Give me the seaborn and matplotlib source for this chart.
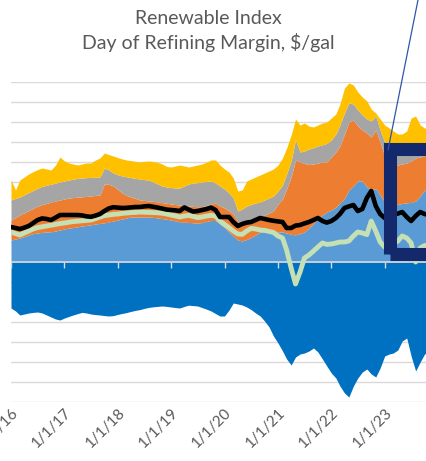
import numpy as np
import pandas as pd
import matplotlib
matplotlib.use("Agg")
import matplotlib.pyplot as plt
from matplotlib.patches import Rectangle
from matplotlib.lines import Line2D
import seaborn as sns

# monthly readings, Jan 2016 .. Nov 2023 ($/gal)
dates = pd.date_range("2016-01-01", periods=95, freq="MS")

# top of each stacked layer
light_blue_top = [1.10, 1.15, 1.20, 1.27, 1.35, 1.42, 1.45, 1.48, 1.50, 1.51,
                  1.55, 1.60, 1.65, 1.70, 1.72, 1.76, 1.80, 1.83, 1.86, 1.90,
                  1.93, 1.96, 2.00, 2.05, 2.10, 2.15, 2.20, 2.25, 2.25, 2.25,
                  2.25, 2.25, 2.23, 2.20, 2.17, 2.14, 2.10, 2.05, 2.00, 1.99,
                  1.98, 1.96, 1.95, 1.97, 2.03, 2.08, 2.07, 1.90, 1.72, 1.50,
                  1.30, 1.10, 1.05, 1.13, 1.23, 1.35, 1.50, 1.50, 1.50, 1.50,
                  1.50, 1.50, 1.45, 1.38, 1.36, 1.42, 1.50, 1.70, 1.93, 2.15,
                  2.35, 2.50, 2.60, 2.73, 2.95, 3.18, 3.60, 3.80, 4.05, 4.05,
                  3.75, 3.62, 3.67, 3.35, 3.02, 2.95, 2.87, 2.88, 2.93, 2.96,
                  2.98, 3.05, 3.30, 3.60, 3.70]
orange_top = [2.10, 2.22, 2.35, 2.46, 2.57, 2.68, 2.79, 2.87, 2.93, 2.99,
              3.05, 3.10, 3.15, 3.20, 3.22, 3.24, 3.26, 3.28, 3.30, 3.33,
              3.35, 3.90, 3.88, 3.80, 3.62, 3.45, 3.33, 3.25, 3.18, 3.10,
              3.08, 3.05, 3.03, 3.00, 2.97, 2.94, 2.90, 2.87, 2.85, 2.83,
              2.80, 2.78, 2.76, 2.77, 2.83, 2.90, 2.95, 2.80, 2.70, 2.55,
              2.40, 2.00, 1.97, 2.00, 2.05, 2.15, 2.25, 2.35, 2.45, 2.55,
              2.90, 3.15, 3.65, 4.25, 5.10, 5.00, 4.93, 4.87, 4.90, 4.95,
              5.00, 5.00, 5.25, 5.50, 5.80, 6.40, 7.00, 7.10, 6.80, 6.60,
              6.45, 6.25, 6.60, 6.00, 5.30, 5.10, 4.90, 4.85, 4.90, 4.95,
              5.05, 5.20, 5.25, 5.32, 5.35]
gray_top = [3.10, 3.18, 3.25, 3.36, 3.47, 3.58, 3.69, 3.78, 3.84, 3.89,
            3.95, 4.00, 4.05, 4.10, 4.14, 4.18, 4.20, 4.22, 4.23, 4.24,
            4.25, 4.70, 4.60, 4.45, 4.36, 4.30, 4.26, 4.22, 4.18, 4.15,
            4.12, 4.10, 4.00, 3.90, 3.80, 3.75, 3.72, 3.70, 3.70, 3.80,
            3.90, 3.95, 3.97, 4.00, 4.03, 4.05, 3.95, 3.80, 3.65, 3.45,
            3.20, 2.55, 2.65, 2.80, 2.88, 2.95, 3.00, 3.10, 3.20, 3.30,
            3.55, 3.85, 4.40, 5.05, 6.10, 5.50, 5.55, 5.65, 5.72, 5.80,
            5.86, 5.93, 6.10, 6.40, 6.85, 7.45, 7.95, 7.90, 7.60, 7.35,
            7.15, 7.05, 7.30, 6.60, 6.00, 5.80, 5.55, 5.50, 5.40, 5.37,
            5.40, 5.50, 5.55, 5.65, 5.70]
yellow_top = [4.10, 3.60, 4.10, 4.25, 4.40, 4.52, 4.62, 4.70, 4.65, 4.60,
              4.85, 5.25, 5.05, 4.95, 4.90, 4.85, 4.90, 4.95, 4.95, 5.10,
              5.20, 5.45, 5.37, 5.30, 5.22, 5.15, 5.10, 5.07, 5.03, 5.00,
              5.03, 5.05, 5.02, 4.98, 4.90, 4.78, 4.75, 4.80, 4.85, 4.80,
              4.75, 4.80, 4.85, 4.90, 5.00, 5.10, 5.10, 4.85, 4.65, 4.50,
              4.20, 3.55, 3.60, 4.05, 4.15, 4.25, 4.35, 4.45, 4.55, 4.65,
              4.85, 5.20, 5.70, 6.35, 7.15, 6.85, 6.95, 6.80, 6.75, 6.85,
              6.95, 7.00, 7.20, 7.40, 7.90, 8.70, 8.95, 8.85, 8.50, 8.25,
              8.05, 7.65, 7.45, 7.15, 6.85, 6.70, 6.55, 6.40, 6.40, 6.55,
              7.20, 7.30, 6.85, 6.70, 6.65]
# negative layer
dark_blue = [-2.30, -2.45, -2.65, -2.60, -2.55, -2.52, -2.50, -2.55, -2.65, -2.75,
             -2.85, -2.90, -2.80, -2.72, -2.65, -2.58, -2.52, -2.55, -2.60, -2.63,
             -2.65, -2.68, -2.70, -2.68, -2.62, -2.57, -2.53, -2.47, -2.42, -2.38,
             -2.32, -2.27, -2.24, -2.22, -2.20, -2.22, -2.25, -2.28, -2.30, -2.22,
             -2.16, -2.18, -2.20, -2.28, -2.36, -2.45, -2.58, -2.70, -2.70, -2.40,
             -2.05, -2.10, -2.15, -2.25, -2.38, -2.55, -2.70, -2.95, -3.25, -3.70,
             -4.05, -4.45, -4.85, -5.15, -4.75, -4.60, -4.55, -4.45, -4.30, -4.50,
             -4.85, -5.20, -5.55, -5.80, -6.20, -6.55, -6.75, -6.20, -5.80, -5.50,
             -5.35, -5.60, -5.75, -5.30, -4.70, -4.60, -4.55, -4.40, -3.95, -3.80,
             -4.70, -5.45, -5.00, -4.60, -4.50]
# lines
green_line = [1.50, 1.42, 1.35, 1.45, 1.55, 1.65, 1.72, 1.76, 1.80, 1.84,
              1.88, 1.92, 1.95, 1.99, 2.02, 2.04, 2.06, 2.08, 2.10, 2.17,
              2.25, 2.32, 2.35, 2.38, 2.40, 2.43, 2.45, 2.47, 2.48, 2.50,
              2.49, 2.48, 2.47, 2.46, 2.44, 2.40, 2.35, 2.30, 2.25, 2.30,
              2.33, 2.28, 2.22, 2.25, 2.30, 2.33, 2.30, 2.05, 1.88, 1.72,
              1.55, 1.40, 1.38, 1.55, 1.68, 1.65, 1.60, 1.58, 1.53, 1.48,
              1.30, 1.20, 0.60, -0.30, -1.10, -0.50, 0.20, 0.35, 0.55, 0.75,
              0.95, 0.88, 0.90, 0.95, 1.00, 1.00, 1.05, 1.30, 1.50, 1.45,
              1.37, 2.05, 1.55, 1.00, 0.75, 1.00, 0.90, 1.05, 1.30, 1.20,
              0.95, 0.00, 0.70, 0.82, 0.85]
black_line = [1.75, 1.70, 1.65, 1.72, 1.80, 1.95, 2.10, 2.18, 2.15, 2.10,
              2.22, 2.35, 2.35, 2.35, 2.35, 2.35, 2.33, 2.28, 2.26, 2.32,
              2.40, 2.55, 2.68, 2.74, 2.72, 2.70, 2.71, 2.73, 2.75, 2.75,
              2.78, 2.80, 2.76, 2.72, 2.67, 2.62, 2.60, 2.58, 2.55, 2.73,
              2.62, 2.52, 2.55, 2.60, 2.65, 2.72, 2.60, 2.25, 2.25, 2.25,
              2.00, 1.80, 1.90, 1.97, 2.00, 2.10, 2.20, 2.15, 2.10, 2.06,
              2.03, 2.00, 1.70, 1.70, 1.82, 1.85, 1.93, 2.00, 2.10, 2.20,
              2.05, 1.97, 2.05, 2.20, 2.40, 2.70, 2.78, 2.85, 2.55, 2.65,
              3.20, 3.55, 2.80, 2.40, 2.20, 2.28, 2.35, 2.42, 2.50, 2.25,
              2.05, 2.30, 2.50, 2.40, 2.35]

year_ticks = pd.date_range("2016-01-01", "2023-01-01", freq="YS")
tick_labels = [f"{d.month}/{d.day}/{d:%y}" for d in year_ticks]

# layer heights from the read tops
tops = np.array([light_blue_top, orange_top, gray_top, yellow_top])
layers = np.vstack([tops[0], np.diff(tops, axis=0)])

sns.set_style("white")
plt.rcParams["font.family"] = ["Lato", "DejaVu Sans"]

fig = plt.figure(figsize=(4.26, 4.61), dpi=100)
# plot area is cut off on the right, like the screenshot
ax = fig.add_axes([11 / 426, 59 / 461, 427 / 426, 320 / 461])

ax.stackplot(dates, *layers,
             colors=["#5B9BD5", "#ED7D31", "#A5A5A5", "#FFC000"],
             linewidth=0, zorder=2)
ax.fill_between(dates, dark_blue, 0, color="#0070C0", linewidth=0, zorder=2)
ax.axhline(0, color="#D9D9D9", lw=1.2, zorder=3)

sns.lineplot(x=dates, y=green_line, ax=ax, color="#C5E0B4", lw=3.5, zorder=4)
sns.lineplot(x=dates, y=black_line, ax=ax, color="black", lw=3.3, zorder=5)

ax.set_xlim(pd.Timestamp("2016-01-01"), pd.Timestamp("2024-01-01"))
ax.set_ylim(-7, 9)
ax.set_yticks(range(-7, 10))
ax.yaxis.grid(True, color="#D9D9D9", lw=1)
ax.set_axisbelow(True)
ax.tick_params(axis="y", left=False, labelleft=False)
for s in ax.spines.values():
    s.set_visible(False)

ax.set_xticks(year_ticks)
ax.set_xticklabels(tick_labels)
ax.tick_params(axis="x", length=0, pad=3, labelsize=11, labelcolor="#595959")
plt.setp(ax.get_xticklabels(), rotation=45, ha="right", rotation_mode="anchor")
ax.set_xlabel("")
ax.set_ylabel("")

# tick marks sit on the zero axis
sec = ax.secondary_xaxis(7 / 16)
sec.set_xticks(year_ticks)
sec.tick_params(bottom=True, length=4, width=1, color="#D9D9D9", labelbottom=False)
sec.spines["bottom"].set_visible(False)
sec.set_zorder(3)

fig.text(208 / 426, 1 - 18 / 461, "Renewable Index", ha="center", va="center",
         fontsize=14, color="#595959")
fig.text(208 / 426, 1 - 42 / 461, "Day of Refining Margin, $/gal", ha="center",
         va="center", fontsize=14, color="#595959")

# callout box and leader line
fig.add_artist(Line2D([418 / 426, 388 / 426], [1, 1 - 150 / 461],
                      transform=fig.transFigure, color="#2F55A8", lw=0.9))
fig.add_artist(Rectangle((389.5 / 426, (461 - 254.5) / 461), 60 / 426, 105 / 461,
                         transform=fig.transFigure, fill=False,
                         edgecolor="#13296B", lw=9.4, joinstyle="miter"))

fig.savefig("out.png", dpi=100)
